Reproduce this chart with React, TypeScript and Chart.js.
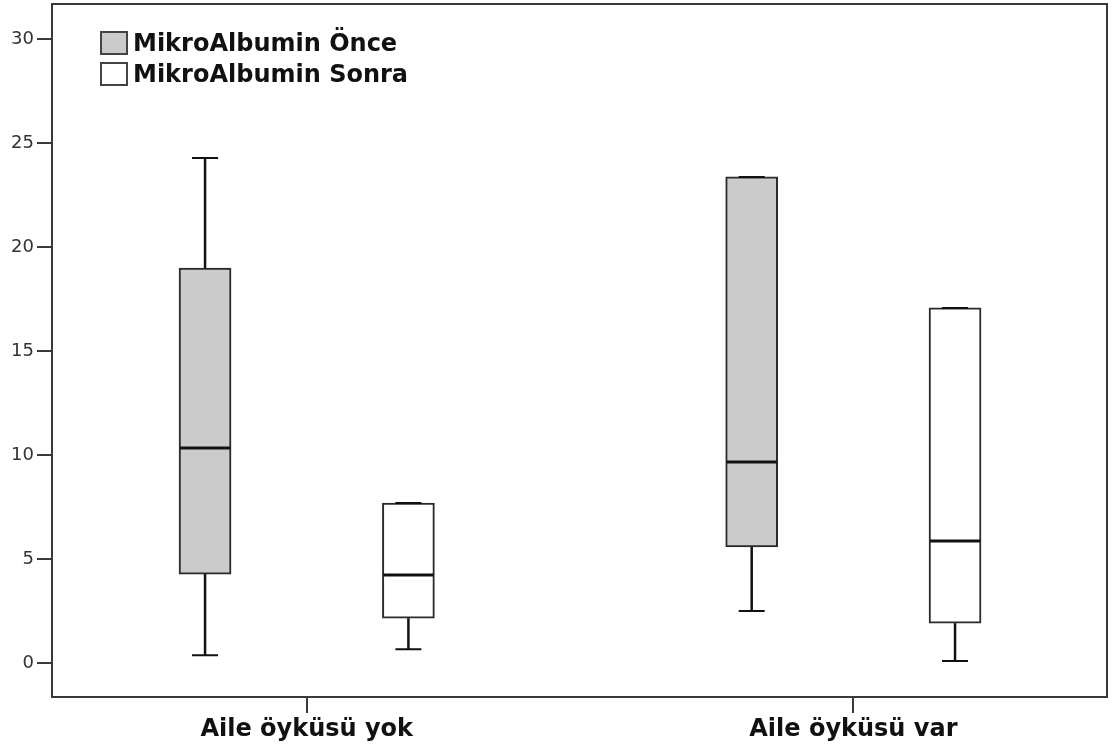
import React, { useEffect, useRef } from "react";
import { Chart, registerables } from "chart.js";

Chart.register(...registerables);

// ---- Data ----
const categories = ["Aile öyküsü yok", "Aile öyküsü var"];
const seriesNames = ["MikroAlbumin Önce", "MikroAlbumin Sonra"];

const onceMin = [0.38, 2.5];
const onceQ1 = [4.28, 5.58];
const onceMedian = [10.34, 9.66];
const onceQ3 = [18.99, 23.37];
const onceMax = [24.28, 23.37];

const sonraMin = [0.67, 0.1];
const sonraQ1 = [2.16, 1.92];
const sonraMedian = [4.23, 5.87];
const sonraQ3 = [7.69, 17.07];
const sonraMax = [7.69, 17.07];

const yTicks = [0, 5, 10, 15, 20, 25, 30];

// ---- Styling / layout constants ----
const GROUP_OFFSET = 0.186;
const BOX_WIDTH = 52;
const CAP_WIDTH = 26;
const FILLS = ["#cbcbcb", "#ffffff"];
const FONT = "'DejaVu Sans', 'Liberation Sans', Arial, sans-serif";

type BoxSeries = { min: number[]; q1: number[]; med: number[]; q3: number[]; max: number[] };
const boxSeries: BoxSeries[] = [
  { min: onceMin, q1: onceQ1, med: onceMedian, q3: onceQ3, max: onceMax },
  { min: sonraMin, q1: sonraQ1, med: sonraMedian, q3: sonraQ3, max: sonraMax },
];
const offsets = [-GROUP_OFFSET, GROUP_OFFSET];

const boxPlugin = {
  id: "boxExtras",
  afterDatasetsDraw(chart: any) {
    const ctx = chart.ctx;
    const xs = chart.scales.x;
    const ys = chart.scales.y;
    ctx.save();
    ctx.strokeStyle = "#111";
    boxSeries.forEach((s, i) => {
      categories.forEach((_, j) => {
        const cx = xs.getPixelForValue(j + offsets[i]);
        const yMin = ys.getPixelForValue(s.min[j]);
        const yQ1 = ys.getPixelForValue(s.q1[j]);
        const yMed = ys.getPixelForValue(s.med[j]);
        const yQ3 = ys.getPixelForValue(s.q3[j]);
        const yMax = ys.getPixelForValue(s.max[j]);
        ctx.lineWidth = 2.5;
        ctx.beginPath();
        ctx.moveTo(cx, yQ3);
        ctx.lineTo(cx, yMax);
        ctx.moveTo(cx, yQ1);
        ctx.lineTo(cx, yMin);
        ctx.stroke();
        ctx.lineWidth = 2;
        ctx.beginPath();
        ctx.moveTo(cx - CAP_WIDTH / 2, yMax);
        ctx.lineTo(cx + CAP_WIDTH / 2, yMax);
        ctx.moveTo(cx - CAP_WIDTH / 2, yMin);
        ctx.lineTo(cx + CAP_WIDTH / 2, yMin);
        ctx.stroke();
        ctx.lineWidth = 3;
        ctx.beginPath();
        ctx.moveTo(cx - BOX_WIDTH / 2 + 1, yMed);
        ctx.lineTo(cx + BOX_WIDTH / 2 - 1, yMed);
        ctx.stroke();
      });
    });
    ctx.restore();
  },
  afterDraw(chart: any) {
    const ctx = chart.ctx;
    const a = chart.chartArea;
    ctx.save();
    ctx.strokeStyle = "#3a3a3a";
    ctx.lineWidth = 2;
    ctx.strokeRect(a.left, a.top, a.right - a.left, a.bottom - a.top);
    // legend
    const lx = a.left + 49;
    const ly = a.top + 28;
    const rowH = 31;
    ctx.font = `bold 24px ${FONT}`;
    ctx.textBaseline = "middle";
    ctx.textAlign = "left";
    chart.data.datasets.forEach((ds: any, i: number) => {
      const y = ly + i * rowH;
      ctx.fillStyle = FILLS[i];
      ctx.fillRect(lx, y, 26, 22);
      ctx.strokeStyle = "#444";
      ctx.lineWidth = 2;
      ctx.strokeRect(lx, y, 26, 22);
      ctx.fillStyle = "#111";
      ctx.fillText(ds.label, lx + 32, y + 13);
    });
    ctx.restore();
  },
};

export default function App() {
  const ref = useRef<HTMLCanvasElement | null>(null);
  useEffect(() => {
    if (!ref.current) return;
    const datasets = boxSeries.map((s, i) => ({
      label: seriesNames[i],
      data: categories.map((_, j) => ({ x: j + offsets[i], y: [s.q1[j], s.q3[j]] })),
      backgroundColor: FILLS[i],
      borderColor: "#2a2a2a",
      borderWidth: 2,
      borderSkipped: false,
      barThickness: BOX_WIDTH,
      grouped: false,
    }));
    const chart = new Chart(ref.current, {
      type: "bar",
      data: { datasets: datasets as any },
      options: {
        animation: false,
        responsive: false,
        layout: { padding: { top: 4, right: 8, left: 0, bottom: 0 } },
        plugins: { legend: { display: false }, tooltip: { enabled: false } },
        scales: {
          x: {
            type: "linear",
            offset: false,
            min: -0.466,
            max: 1.464,
            afterBuildTicks: (s: any) => {
              s.ticks = categories.map((_, j) => ({ value: j }));
            },
            afterFit: (s: any) => {
              s.height = 57;
              s.paddingLeft = 0;
              s.paddingRight = 0;
            },
            ticks: {
              autoSkip: false,
              maxRotation: 0,
              padding: 2,
              color: "#111",
              font: { family: FONT, size: 24, weight: "bold" },
              callback: (v: any) => categories[v as number] ?? "",
            },
            grid: { display: true, offset: false, drawOnChartArea: false, drawTicks: true, tickLength: 16, color: "#3a3a3a", lineWidth: 2 },
            border: { display: true, color: "#3a3a3a", width: 2 },
          },
          y: {
            type: "linear",
            min: -1.63,
            max: 31.68,
            afterBuildTicks: (s: any) => {
              s.ticks = yTicks.map((v) => ({ value: v }));
            },
            afterFit: (s: any) => {
              s.width = 52;
              s.paddingTop = 0;
              s.paddingBottom = 0;
            },
            ticks: {
              padding: 3,
              color: "#333",
              font: { family: FONT, size: 18 },
            },
            grid: { display: true, drawOnChartArea: false, drawTicks: true, tickLength: 15, color: "#3a3a3a", lineWidth: 2 },
            border: { display: true, color: "#3a3a3a", width: 2 },
          },
        },
      },
      plugins: [boxPlugin],
    });
    return () => chart.destroy();
  }, []);
  return (
    <div style={{ position: "absolute", left: 0, top: 0, width: 1115, height: 754, background: "#fff" }}>
      <canvas ref={ref} width={1115} height={754} style={{ display: "block" }} />
    </div>
  );
}
